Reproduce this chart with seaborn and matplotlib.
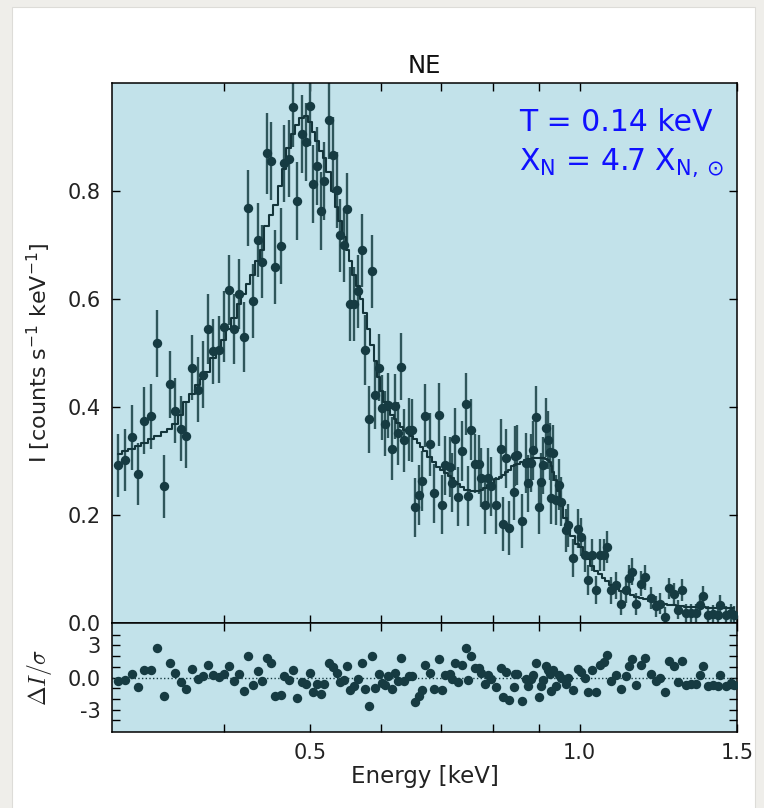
import numpy as np
import pandas as pd
import matplotlib
matplotlib.use("Agg")
import matplotlib.pyplot as plt
import seaborn as sns
from matplotlib.patches import Rectangle
from matplotlib.ticker import NullFormatter

# ---------------- data ----------------
energy = [0.305, 0.310, 0.316, 0.321, 0.326, 0.332, 0.337, 0.343, 0.348, 0.353,
          0.358, 0.363, 0.369, 0.374, 0.379, 0.384, 0.389, 0.395, 0.400, 0.405,
          0.411, 0.416, 0.421, 0.426, 0.431, 0.437, 0.441, 0.447, 0.452, 0.457,
          0.463, 0.467, 0.473, 0.478, 0.483, 0.489, 0.494, 0.499, 0.504, 0.509,
          0.514, 0.518,
          0.524, 0.530, 0.535, 0.539, 0.545, 0.550, 0.554, 0.560, 0.565, 0.571,
          0.575, 0.581, 0.586, 0.591, 0.596, 0.601, 0.606, 0.611, 0.617, 0.622,
          0.626, 0.632, 0.637, 0.644, 0.649, 0.655, 0.661, 0.666, 0.672, 0.680,
          0.687, 0.696, 0.702, 0.708, 0.716, 0.720, 0.726, 0.731, 0.739, 0.747,
          0.751, 0.757, 0.763, 0.771, 0.776, 0.784, 0.791, 0.797, 0.807,
          0.817, 0.822, 0.828, 0.834, 0.844, 0.846, 0.852, 0.862, 0.872, 0.876,
          0.883, 0.886, 0.893, 0.901, 0.906, 0.911, 0.918, 0.922, 0.926, 0.930,
          0.934, 0.940, 0.948, 0.954, 0.965, 0.970, 0.983, 0.996, 1.003, 1.013,
          1.022, 1.033, 1.044, 1.053, 1.064, 1.073, 1.085, 1.099, 1.113, 1.126,
          1.135, 1.145, 1.157, 1.172, 1.185, 1.203, 1.218, 1.229, 1.245, 1.258,
          1.274, 1.288, 1.303, 1.316, 1.333, 1.350, 1.362, 1.376, 1.391, 1.409,
          1.428, 1.436, 1.459, 1.477, 1.488]

intensity = [0.292, 0.302, 0.344, 0.276, 0.375, 0.383, 0.518, 0.253, 0.442, 0.393,
             0.360, 0.347, 0.473, 0.432, 0.460, 0.544, 0.503, 0.506, 0.549, 0.617,
             0.545, 0.609, 0.529, 0.769, 0.596, 0.709, 0.669, 0.870, 0.855, 0.659,
             0.698, 0.851, 0.860, 0.956, 0.781, 0.906, 0.891, 0.958, 0.813, 0.847,
             0.763, 0.818,
             0.932, 0.867, 0.802, 0.718, 0.700, 0.766, 0.591, 0.591, 0.614, 0.690,
             0.505, 0.377, 0.651, 0.422, 0.473, 0.399, 0.369, 0.403, 0.323, 0.401,
             0.351, 0.475, 0.338, 0.358, 0.357, 0.214, 0.237, 0.263, 0.384, 0.331,
             0.240, 0.386, 0.219, 0.292, 0.289, 0.260, 0.341, 0.234, 0.319, 0.406,
             0.235, 0.358, 0.295, 0.294, 0.269, 0.218, 0.269, 0.253, 0.218,
             0.322, 0.183, 0.305, 0.176, 0.243, 0.309, 0.311, 0.188, 0.296, 0.259,
             0.296, 0.320, 0.382, 0.215, 0.262, 0.292, 0.362, 0.339, 0.317, 0.231,
             0.315, 0.228, 0.256, 0.225, 0.172, 0.181, 0.120, 0.175, 0.159, 0.126,
             0.080, 0.126, 0.061, 0.126, 0.126, 0.141, 0.061, 0.070, 0.036, 0.061,
             0.083, 0.095, 0.035, 0.073, 0.085, 0.046, 0.031, 0.036, 0.012, 0.064,
             0.054, 0.025, 0.061, 0.018, 0.019, 0.018, 0.033, 0.050, 0.015, 0.016,
             0.015, 0.033, 0.015, 0.018, 0.015]

error = [0.058, 0.057, 0.060, 0.057, 0.062, 0.060, 0.062, 0.058, 0.062, 0.060,
         0.060, 0.060, 0.060, 0.060, 0.062, 0.065, 0.060, 0.062, 0.065, 0.065,
         0.065, 0.065, 0.065, 0.070, 0.068, 0.068, 0.068, 0.075, 0.072, 0.068,
         0.070, 0.072, 0.072, 0.075, 0.072, 0.072, 0.072, 0.075, 0.072, 0.072,
         0.072, 0.072,
         0.072, 0.070, 0.070, 0.068, 0.068, 0.068, 0.068, 0.068, 0.068, 0.068,
         0.065, 0.062, 0.068, 0.062, 0.062, 0.060, 0.060, 0.060, 0.058, 0.060,
         0.058, 0.062, 0.058, 0.058, 0.058, 0.055, 0.055, 0.055, 0.058, 0.058,
         0.055, 0.058, 0.055, 0.055, 0.055, 0.055, 0.057, 0.055, 0.056, 0.057,
         0.055, 0.056, 0.055, 0.055, 0.055, 0.053, 0.055, 0.054, 0.053,
         0.056, 0.050, 0.055, 0.050, 0.052, 0.055, 0.055, 0.050, 0.055, 0.053,
         0.054, 0.055, 0.057, 0.050, 0.052, 0.053, 0.055, 0.054, 0.053, 0.048,
         0.052, 0.047, 0.047, 0.045, 0.040, 0.040, 0.035, 0.037, 0.035, 0.032,
         0.028, 0.030, 0.026, 0.030, 0.030, 0.030, 0.025, 0.025, 0.022, 0.024,
         0.025, 0.025, 0.020, 0.023, 0.023, 0.020, 0.019, 0.019, 0.017, 0.020,
         0.020, 0.018, 0.020, 0.017, 0.017, 0.017, 0.018, 0.019, 0.017, 0.017,
         0.017, 0.018, 0.017, 0.017, 0.017]

model = [0.313, 0.318, 0.323, 0.328, 0.333, 0.340, 0.347, 0.353, 0.360, 0.368,
         0.385, 0.410, 0.425, 0.440, 0.452, 0.465, 0.490, 0.505, 0.525, 0.545,
         0.565, 0.590, 0.610, 0.628, 0.645, 0.670, 0.690, 0.735, 0.755, 0.775,
         0.810, 0.840, 0.880, 0.905, 0.922, 0.935, 0.938, 0.928, 0.910, 0.892,
         0.875, 0.862,
         0.835, 0.800, 0.770, 0.745, 0.715, 0.690, 0.670, 0.645, 0.625, 0.600,
         0.575, 0.545, 0.515, 0.485, 0.455, 0.430, 0.410, 0.395, 0.385, 0.378,
         0.370, 0.363, 0.358, 0.352, 0.347, 0.340, 0.333, 0.326, 0.318, 0.308,
         0.298, 0.288, 0.283, 0.278, 0.272, 0.268, 0.262, 0.257, 0.252, 0.247,
         0.246, 0.245, 0.244, 0.245, 0.247, 0.250, 0.255, 0.259, 0.266,
         0.270, 0.274, 0.279, 0.283, 0.290, 0.292, 0.295, 0.299, 0.302, 0.303,
         0.304, 0.305, 0.305, 0.305, 0.305, 0.305, 0.303, 0.301, 0.298, 0.290,
         0.280, 0.265, 0.245, 0.228, 0.195, 0.182, 0.162, 0.147, 0.140, 0.128,
         0.118, 0.106, 0.097, 0.090, 0.083, 0.077, 0.070, 0.064, 0.060, 0.057,
         0.055, 0.052, 0.049, 0.046, 0.044, 0.040, 0.038, 0.037, 0.035, 0.034,
         0.033, 0.032, 0.031, 0.030, 0.030, 0.029, 0.029, 0.029, 0.028, 0.028,
         0.028, 0.028, 0.028, 0.027, 0.027]

x_major = [0.5, 1.0, 1.5]
x_major_labels = ["0.5", "1.0", "1.5"]
x_minor = [0.4, 0.6, 0.7, 0.8, 0.9]
y_main_ticks = [0.0, 0.2, 0.4, 0.6, 0.8]
y_main_labels = ["0.0", "0.2", "0.4", "0.6", "0.8"]
y_res_ticks = [-3, 0, 3]
y_res_labels = ["-3", "0.0", "3"]
y_res_minor = [-4, -2, -1, 1, 2, 4]

df = pd.DataFrame({"energy": energy, "intensity": intensity,
                   "error": error, "model": model})
df["residual"] = (df["intensity"] - df["model"]) / df["error"]

# ---------------- style ----------------
sns.set_theme(style="ticks")
plt.rcParams["font.family"] = ["DejaVu Sans"]
plt.rcParams["axes.unicode_minus"] = False
plt.rcParams["mathtext.fontset"] = "dejavusans"

AX_BG = "#c2e2ea"
MARK = "#163b42"
EBAR = "#2f565b"
LINE = "#14353b"

fig = plt.figure(figsize=(7.64, 8.08), dpi=100, facecolor="#efeeea")
card = Rectangle((12 / 764, -0.01), (755 - 12) / 764, 1.01 - 7 / 808,
                 transform=fig.transFigure, facecolor="white",
                 edgecolor="#dddcd8", lw=0.8, zorder=-10)
fig.add_artist(card)

ax = fig.add_axes([112 / 764, 1 - 623 / 808, 625 / 764, 540 / 808])
axr = fig.add_axes([112 / 764, 1 - 732 / 808, 625 / 764, 109 / 808], sharex=ax)

for a in (ax, axr):
    a.set_facecolor(AX_BG)
    for sp in a.spines.values():
        sp.set_color("black")
        sp.set_linewidth(1.1)

ax.set_xscale("log")

# main panel
ax.errorbar(df["energy"], df["intensity"], yerr=df["error"], fmt="none",
            ecolor=EBAR, elinewidth=1.7, capsize=0, zorder=2)
sns.lineplot(data=df, x="energy", y="model", ax=ax, estimator=None,
             drawstyle="steps-mid", color=LINE, lw=1.5, zorder=3)
sns.scatterplot(data=df, x="energy", y="intensity", ax=ax, color=MARK,
                s=46, linewidth=0, zorder=4)

# residual panel
axr.axhline(0, color=MARK, ls=":", lw=1.0, zorder=1)
sns.scatterplot(data=df, x="energy", y="residual", ax=axr, color=MARK,
                s=46, linewidth=0, zorder=3)

ax.set_xlim(0.3, 1.5)
ax.set_ylim(0.0, 1.0)
axr.set_ylim(-5.1, 5.1)

axr.set_xticks(x_major)
axr.set_xticklabels(x_major_labels)
axr.set_xticks(x_minor, minor=True)
axr.xaxis.set_minor_formatter(NullFormatter())

ax.set_yticks(y_main_ticks)
ax.set_yticklabels(y_main_labels)
axr.set_yticks(y_res_ticks)
axr.set_yticklabels(y_res_labels)
axr.set_yticks(y_res_minor, minor=True)
axr.yaxis.set_minor_formatter(NullFormatter())

for a in (ax, axr):
    a.tick_params(which="both", direction="in", top=True, right=True,
                  length=6, width=1.0, color="black", labelsize=15, pad=8,
                  labelcolor="#222222")
ax.tick_params(axis="x", which="both", labelbottom=False)

ax.set_xlabel("")
ax.set_ylabel(r"I [counts s$^{-1}$ keV$^{-1}$]", fontsize=16, color="#222222")
ax.yaxis.set_label_coords(-0.095, 0.5)
axr.set_xlabel("Energy [keV]", fontsize=16.5, color="#222222")
axr.xaxis.set_label_coords(0.5, -0.30)
axr.set_ylabel(r"$\Delta I/\sigma$", fontsize=17, color="#222222",
               math_fontfamily="cm")
axr.yaxis.set_label_coords(-0.092, 0.5)

ax.set_title("NE", fontsize=17.5, pad=7, color="#111111")

ax.text(0.651, 0.911, "T = 0.14 keV", transform=ax.transAxes,
        fontsize=21.5, color="#1010ff", va="baseline", ha="left")
ax.text(0.651, 0.839, r"X$_\mathrm{N}$ = 4.7 X$_{\mathrm{N},\odot}$",
        transform=ax.transAxes, fontsize=21.5, color="#1010ff",
        va="baseline", ha="left")

fig.savefig("out.png", dpi=100, facecolor=fig.get_facecolor())
